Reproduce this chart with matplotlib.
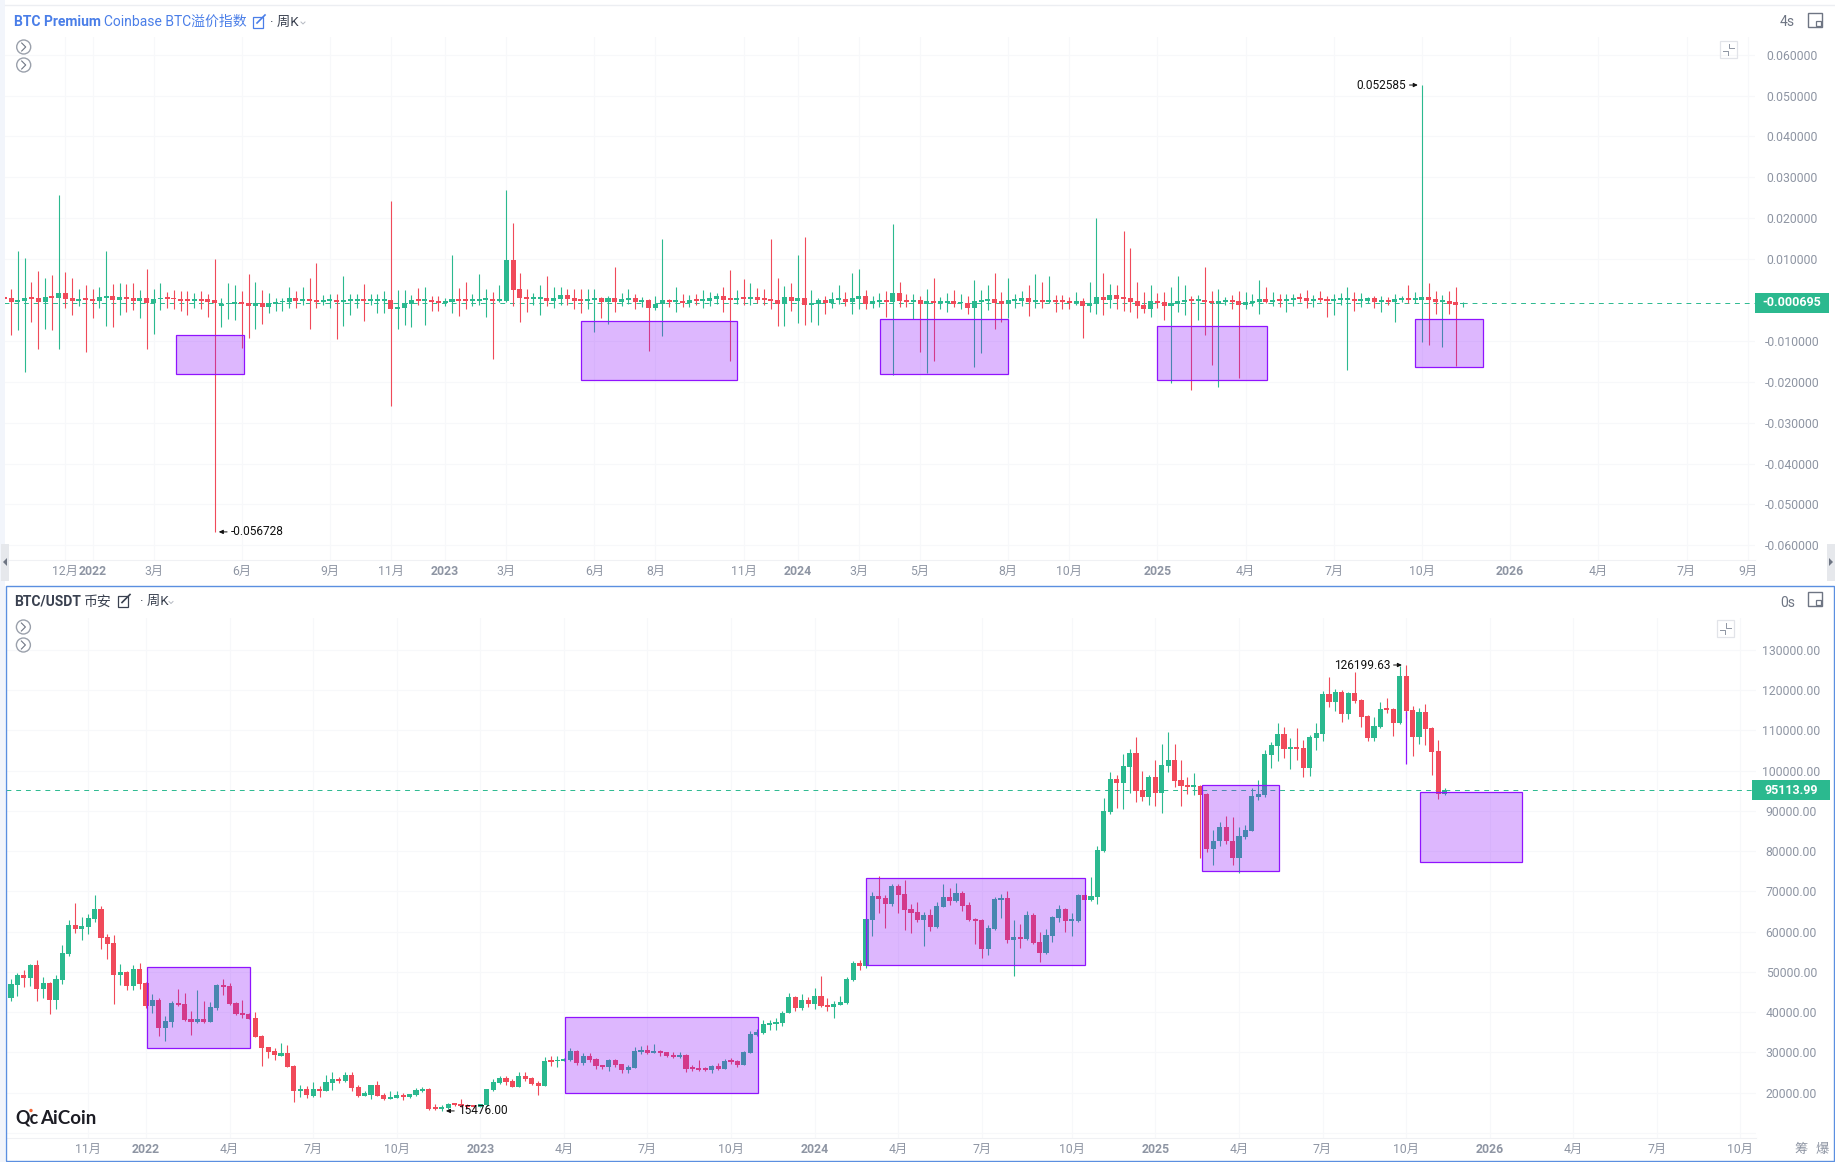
import pandas as pd
import matplotlib
matplotlib.use("Agg")
import matplotlib.pyplot as plt
from matplotlib.patches import Rectangle, Circle, Polygon

plt.rcParams["font.family"] = ["Roboto", "Noto Sans CJK SC", "DejaVu Sans"]

W, H = 1835, 1162
BASE = pd.Timestamp("2022-01-03")

GREEN = "#2BB98F"
RED = "#F04A5A"
PURPLE = "#9013FE"
GRID = "#F7F8FA"
AXIS_TEXT = "#8E95A3"

# ---- premium index, weekly, first candle is 13 weeks before BASE
prem_first_week = -13
prem_open = [
    .0008, .0005, -.0005, -.0003, .0007, .0005, -.0005, .0010, .0005, .0017,
    .0005, -.0003, .0005, .0002, -.0003, .0005, .0010, 0, .0007, .0006,
    -.0002, .0005, -.0007, .0002, .0007, .0005, .0003, .0002, -.0002, .0002,
    .0002, 0, -.0014, -.0011, -.0010, -.0005, -.0008, -.0014, -.0007, -.0016,
    -.0009, -.0006, -.0005, .0005, -.0002, .0002, 0, -.0004, -.0003, 0,
    -.0005, -.0003, -.0003, .0002, -.0003, -.0003, -.0003, 0, -.0022, -.0020,
    -.0009, .0002, -.0003, 0, -.0002, -.0007, -.0005, .0002, .0002, -.0003,
    -.0003, 0, .0002, -.0003, -.0002, .0098, .0027, .0007, .0002, .0002,
    .0005, -.0002, .0002, .0012, .0005, .0002, -.0002, 0, .0004, -.0004,
    .0004, -.0004, .0001, .0004, -.0004, 0, -.0019, -.0011, 0, -.0004,
    -.0003, -.0007, .0002, -.0002, -.0002, .0002, .0010, .0004, 0, .0007,
    .0002, .0007, .0005, .0002, 0, -.0009, .0007, -.0002, .0005, -.0012,
    -.0010, 0, -.0007, 0, .0002, -.0005, .0002, .0010, -.0010, -.0005,
    0, -.0005, .0017, 0, -.0005, 0, -.0010, -.0002, -.0007, -.0007,
    -.0002, -.0008, -.0008, -.0019, -.0004, -.0002, .0002, -.0002, -.0009, -.0002,
    -.0002, .0005, -.0005, 0, -.0005, 0, 0, -.0002, -.0007, -.0002,
    -.0015, -.0010, .0007, 0, .0012, .0007, .0005, -.0002, -.0012, -.0022,
    -.0002, -.0005, -.0015, -.0010, -.0005, .0002, -.0002, 0, -.0002, -.0010,
    -.0005, 0, -.0002, -.0012, -.0007, -.0005, .0002, -.0005, .0002, -.0002,
    0, .0007, .0005, -.0002, .0005, .0002, -.0002, 0, 0, .0002,
    -.0002, -.0002, .0005, -.0005, 0, -.0005, 0, .0005, 0, 0,
    .0007, .0002, -.0005, -.0002, -.0005, -.0011,
]
prem_close = [
    .0003, -.0005, 0, .0005, .0003, -.0005, .0007, .0005, .0017, .0002,
    -.0002, .0002, .0001, -.0002, .0007, .0010, 0, .0007, .0002, -.0002,
    .0005, -.0007, .0002, .0005, .0002, .0002, -.0002, -.0003, .0002, -.0002,
    -.0004, -.0008, -.0010, -.0007, -.0006, -.0010, -.0014, -.0007, -.0016, -.0007,
    -.0005, -.0002, .0005, -.0002, .0002, -.0002, -.0004, 0, .0002, -.0005,
    0, .0002, .0002, -.0003, .0002, .0002, .0002, -.0022, -.0017, -.0007,
    0, -.0003, .0002, -.0004, -.0007, -.0002, .0002, -.0003, -.0003, .0002,
    .0002, .0005, -.0003, .0002, .0098, .0025, .0005, .0002, .0007, .0007,
    -.0002, .0005, .0012, .0002, -.0002, -.0002, .0002, .0005, -.0004, .0004,
    -.0004, .0002, .0004, -.0004, 0, -.0019, -.0009, -.0001, -.0004, 0,
    -.0007, 0, -.0002, .0002, .0004, .0010, 0, 0, .0004, .0002,
    .0007, 0, 0, -.0002, -.0009, .0007, -.0002, .0005, -.0012, -.0007,
    0, -.0007, .0002, .0005, -.0005, .0005, .0010, -.0010, -.0002, 0,
    -.0005, .0017, -.0002, -.0005, 0, -.0010, -.0002, -.0007, -.0002, -.0002,
    -.0010, -.0005, -.0019, -.0003, 0, .0002, -.0007, -.0009, 0, .0002,
    .0005, -.0005, 0, -.0005, 0, -.0005, -.0005, -.0007, -.0002, -.0015,
    -.0007, .0007, 0, .0012, .0002, .0002, -.0005, -.0015, -.0022, -.0002,
    -.0008, -.0015, -.0007, -.0002, 0, -.0002, .0002, -.0005, -.0007, -.0002,
    0, -.0005, -.0012, -.0005, -.0002, .0002, -.0005, 0, -.0002, .0002,
    .0005, .0002, -.0002, .0002, 0, -.0002, .0002, .0005, .0005, -.0002,
    .0002, .0005, -.0005, 0, -.0005, .0002, .0005, 0, .0005, .0007,
    0, -.0005, 0, -.0009, -.0012, -.000695,
]
prem_high = [
    .0009, .0028, .0121, .0103, .0044, .0072, .0055, .0062, .0257, .0068,
    .0053, .0027, .0037, .0027, .0033, .0121, .0040, .0041, .0039, .0041,
    .0025, .0077, .0026, .0042, .0019, .0024, .0023, .0021, .0016, .0021,
    .0015, .0100, .0006, .0041, .0036, .0022, .0064, .0043, .0024, .0016,
    .0005, .0006, .0032, .0022, .0032, .0055, .0090, .0013, .0014, .0014,
    .0059, .0014, .0014, .0039, .0014, .0014, .0022, .0242, .0024, .0025,
    .0012, .0029, .0031, .0010, .0009, .0005, .0110, .0030, .0044, .0014,
    .0063, .0027, .0019, .0037, .0268, .0188, .0065, .0028, .0016, .0037,
    .0059, .0032, .0032, .0026, .0028, .0026, .0027, .0028, .0007, .0010,
    .0081, .0016, .0026, .0014, .0008, .0002, .0010, .0149, .0002, .0033,
    .0014, .0012, .0014, .0024, .0020, .0017, .0032, .0073, .0024, .0051,
    .0042, .0029, .0028, .0148, .0054, .0034, .0042, .0109, .0155, .0024,
    .0006, .0010, .0019, .0036, .0020, .0066, .0075, .0024, .0010, .0016,
    .0021, .0187, .0044, .0015, .0015, .0011, .0026, .0053, .0008, .0016,
    .0025, .0014, .0011, .0050, .0024, .0037, .0066, .0020, .0053, .0015,
    .0022, .0037, .0063, .0043, .0059, .0012, .0012, .0007, .0020, .0004,
    .0043, .0201, .0065, .0039, .0036, .0169, .0127, .0043, .0020, .0037,
    .0016, .0020, .0033, .0059, .0037, .0011, .0012, .0081, .0022, .0027,
    .0007, .0012, .0022, .0020, .0015, .0049, .0033, .0020, .0015, .0014,
    .0015, .0017, .0024, .0012, .0023, .0010, .0014, .0017, .0032, .0020,
    .0018, .0008, .0010, .0009, .0007, .0015, .0010, .0037, .0019, .052585,
    .0042, .0022, .0012, .0022, .0032, -.0004,
]
prem_low = [
    .0003, -.0085, -.0074, -.0176, -.0053, -.0121, -.0071, -.0074, -.0119, -.0020,
    -.0037, -.0014, -.0128, -.0043, -.0020, -.0064, -.0066, -.0037, -.0029, -.0024,
    -.0044, -.0121, -.0082, -.0024, -.0020, -.0022, -.0027, -.0036, -.0019, -.0022,
    -.0042, -.056728, -.0065, -.0047, -.0049, -.0117, -.0092, -.0071, -.0059, -.0033,
    -.0026, -.0026, -.0019, -.0019, -.0013, -.0070, -.0020, -.0013, -.0020, -.0096,
    -.0064, -.0037, -.0020, -.0051, -.0013, -.0032, -.0033, -.0259, -.0070, -.0062,
    -.0066, -.0013, -.0062, -.0026, -.0026, -.0014, -.0032, -.0039, -.0022, -.0014,
    -.0013, -.0041, -.0144, -.0004, -.0004, -.0015, -.0054, -.0029, -.0013, -.0037,
    -.0014, -.0019, -.0013, -.0013, -.0023, -.0031, -.0023, -.0078, -.0044, -.0058,
    -.0029, -.0015, -.0010, -.0022, -.0016, -.0124, -.0024, -.0087, -.0018, -.0030,
    -.0016, -.0018, -.0012, -.0019, -.0014, -.0011, -.0029, -.0148, -.0010, -.0012,
    -.0013, -.0008, -.0012, -.0022, -.0063, -.0063, -.0027, -.0056, -.0062, -.0054,
    -.0060, -.0034, -.0019, -.0011, -.0014, -.0035, -.0022, -.0022, -.0019, -.0016,
    -.0042, -.0183, -.0016, -.0016, -.0047, -.0127, -.0179, -.0150, -.0022, -.0030,
    -.0016, -.0022, -.0034, -.0165, -.0129, -.0025, -.0071, -.0053, -.0045, -.0019,
    -.0015, -.0040, -.0020, -.0019, -.0008, -.0029, -.0023, -.0022, -.0012, -.0092,
    -.0029, -.0034, -.0037, -.0020, -.0023, -.0027, -.0029, -.0045, -.0033, -.0041,
    -.0020, -.0048, -.0202, -.0029, -.0037, -.0219, -.0049, -.0085, -.0158, -.0212,
    -.0012, -.0022, -.0191, -.0022, -.0015, -.0034, -.0008, -.0015, -.0017, -.0029,
    -.0014, -.0006, -.0019, -.0017, -.0006, -.0041, -.0037, -.0012, -.0172, -.0026,
    -.0016, -.0008, -.0020, -.0029, -.0012, -.0054, -.0004, -.0008, -.0008, -.0102,
    -.0110, -.0034, -.0114, -.0034, -.0162, -.0016,
]

# ---- BTC/USDT, weekly, first candle is 22 weeks before BASE
btc_first_week = -22
btc_open = [
    39700, 43586, 46733, 49217, 48555, 51701, 45822, 47230, 43090, 48057,
    54516, 61637, 60643, 61223, 63127, 65611, 58657, 57166, 49300, 49962,
    46567, 50790, 47230, 41600, 43007, 36135, 37626, 42345, 42013, 38204,
    37543, 38204, 37543, 41020, 46733, 46485, 42262, 39695, 39530, 38535,
    34065, 31249, 30256, 29178, 29842, 26613, 20485, 20900, 19160, 20900,
    20485, 22472, 23384, 22970, 24376, 21397, 19266, 19432, 21914, 19432,
    18520, 18769, 19432, 18934, 19432, 20508, 20922, 16452, 16038, 16204,
    17330, 17197, 17000, 16950, 16540, 16866, 20673, 22494, 23736, 22908,
    21418, 24066, 23653, 22411, 21749, 28039, 27791, 27957, 28122, 30356,
    27378, 29115, 28453, 26797, 26302, 28122, 27129, 25640, 26220, 30190,
    30605, 29943, 30274, 30026, 29364, 28867, 29364, 26302, 26137, 26137,
    25640, 26633, 25970, 28205, 27791, 26880, 29943, 34413, 34826, 36800,
    37060, 37390, 39873, 43764, 41035, 43018, 42026, 44013, 41780, 41280,
    41780, 42275, 47985, 52200, 51460, 62880, 68840, 68350, 66860, 71330,
    69340, 65620, 64870, 62880, 64127, 61146, 66110, 68595, 67600, 69590,
    66610, 63130, 62880, 55680, 60650, 67850, 68350, 57920, 58660, 58160,
    64127, 57420, 54690, 58900, 63370, 65620, 62630, 62630, 69090, 67850,
    68670, 80100, 89600, 97810, 96980, 100950, 104350, 95080, 93500, 98390,
    94500, 101120, 102600, 97650, 96400, 96000, 96150, 94170, 80500, 82400,
    85970, 82500, 78280, 83570, 85060, 93500, 94000, 103850, 106170, 109070,
    105420, 105750, 105590, 100700, 108150, 109150, 119000, 117000, 119500, 114100,
    119250, 117500, 113540, 108150, 110800, 115500, 115270, 111800, 123450, 115000,
    108320, 114500, 110560, 104850, 94100,
]
btc_high = [
    44000, 48223, 49631, 50459, 51950, 52943, 48803, 47477, 49217, 56586,
    62879, 67019, 63707, 64287, 69089, 66357, 59401, 59153, 51950, 50293,
    51701, 52115, 47500, 44500, 43421, 39000, 42676, 45822, 44662, 40358,
    45408, 42676, 42428, 47064, 48223, 47147, 42510, 43000, 39700, 40000,
    34313, 31415, 31000, 32409, 31829, 26860, 21893, 21645, 22555, 21727,
    24293, 25200, 23800, 25200, 25200, 21893, 20508, 22000, 22825, 20011,
    20425, 20508, 20011, 19700, 21170, 21500, 21087, 17114, 16866, 17400,
    17500, 18370, 17300, 17000, 17200, 21000, 23300, 24200, 24200, 23300,
    25200, 25200, 24000, 23000, 28900, 29100, 29200, 28700, 31000, 30500,
    29800, 29800, 28500, 27000, 28400, 28400, 27200, 26800, 31400, 31500,
    31800, 32000, 30500, 30100, 30000, 30200, 29500, 26900, 28100, 26400,
    27000, 27400, 28300, 28600, 28000, 30300, 35200, 35900, 38000, 38050,
    38470, 40290, 44700, 44100, 44430, 43800, 45900, 48970, 43500, 42700,
    43900, 48700, 52800, 52900, 63500, 69960, 73800, 69000, 71800, 71800,
    72800, 66800, 67300, 64800, 65500, 67400, 71900, 70800, 72000, 70100,
    67300, 63400, 63100, 61700, 68700, 69400, 70000, 62800, 61800, 65000,
    64700, 60000, 60600, 64000, 66500, 65800, 64500, 69400, 69500, 73500,
    81300, 93300, 99600, 99000, 104000, 105300, 108300, 99800, 99000, 102700,
    106500, 109500, 106500, 102500, 98500, 99500, 96500, 94500, 85300, 87300,
    88700, 88500, 86000, 86500, 95700, 97700, 105000, 107000, 111900, 110700,
    108000, 110500, 107500, 108900, 111800, 119700, 123200, 120200, 119900, 119500,
    124400, 117700, 113900, 113300, 117000, 117900, 115500, 126000, 126199.63, 116000,
    115500, 116500, 110800, 107500, 95700,
]
btc_low = [
    39500, 42841, 44000, 46319, 46485, 42841, 43421, 39612, 40854, 46899,
    53937, 59567, 57911, 59401, 62465, 55593, 53275, 42013, 46733, 45491,
    45574, 45657, 41000, 39700, 34065, 32900, 36300, 41517, 37873, 34313,
    37374, 37211, 37543, 40441, 44248, 41765, 39281, 38535, 38280, 33733,
    26695, 28683, 28020, 29100, 26365, 17587, 18995, 18665, 18995, 18995,
    20485, 20650, 22472, 22555, 20485, 18995, 19183, 18520, 19183, 18107,
    18438, 18603, 18272, 18686, 19266, 20094, 15700, 15790, 15476, 15950,
    16800, 16400, 16300, 16300, 16400, 16700, 20400, 22200, 22000, 21400,
    21400, 23000, 22000, 19430, 21600, 26600, 26500, 27800, 27900, 27000,
    26800, 27600, 25800, 25900, 25500, 26300, 25000, 24800, 26100, 29500,
    29500, 29900, 29100, 28800, 28600, 28700, 25200, 25400, 25400, 25300,
    24900, 25700, 25900, 27100, 26500, 26800, 29800, 34100, 34500, 35600,
    35570, 36650, 39870, 40230, 40560, 41300, 40800, 41200, 40300, 38600,
    41700, 42000, 47800, 50500, 50900, 59000, 64600, 60800, 66400, 64500,
    60500, 59600, 62500, 56500, 60200, 60800, 66000, 66700, 67300, 65100,
    62700, 57000, 53500, 54300, 60400, 63500, 57200, 49000, 55900, 57800,
    57000, 52500, 54400, 57500, 62500, 59800, 58900, 62400, 65300, 67500,
    66900, 79800, 89200, 90800, 90500, 94300, 92300, 92500, 91500, 91300,
    89400, 99700, 96000, 91300, 94100, 93800, 78200, 79800, 76600, 81300,
    81700, 76500, 74500, 83100, 85000, 92700, 93500, 100700, 102300, 103100,
    100400, 102500, 98300, 98700, 105200, 107400, 115800, 114700, 112000, 112700,
    116700, 110800, 107300, 107300, 110600, 114300, 108600, 111500, 113000, 103500,
    106700, 106300, 98900, 93000, 93900,
]
btc_close = [
    43800, 46981, 49217, 48555, 51701, 45822, 47230, 43090, 48223, 54599,
    61637, 60643, 61389, 63376, 65611, 58491, 56999, 49300, 49962, 46567,
    50790, 47064, 41600, 43007, 36135, 37791, 42345, 41765, 38122, 37543,
    38204, 37543, 41268, 46733, 46236, 42013, 39530, 39281, 38370, 33900,
    31166, 30173, 29262, 29759, 26448, 20485, 20900, 19326, 20900, 20485,
    22638, 23384, 22970, 24376, 21065, 19160, 19845, 21914, 19266, 18438,
    18934, 19432, 18934, 19680, 20673, 20922, 16038, 16038, 16452, 17197,
    17040, 16700, 16540, 16540, 17100, 20922, 22659, 23736, 22659, 21500,
    24150, 23404, 22164, 21749, 27791, 27709, 28039, 28370, 30274, 27295,
    29033, 28122, 26633, 26467, 28122, 26797, 25640, 26385, 30356, 30605,
    29860, 30274, 29860, 29115, 28867, 29364, 25970, 25888, 25723, 25723,
    26716, 25970, 27957, 27709, 26797, 30109, 34578, 34992, 37061, 37400,
    37557, 39873, 43764, 41035, 43018, 42026, 44013, 41530, 41280, 42026,
    42520, 48150, 52200, 51460, 63130, 68840, 68100, 66860, 71330, 69090,
    65367, 64620, 62880, 64127, 61146, 66360, 68595, 67600, 69590, 66360,
    62880, 62630, 55680, 60900, 68100, 68350, 57920, 58660, 58160, 64127,
    57170, 54690, 59160, 63630, 65620, 62630, 63130, 69090, 67850, 68840,
    80266, 89948, 97810, 96980, 101120, 104350, 95000, 93500, 98390, 94500,
    101370, 102600, 97480, 96160, 96000, 96400, 94000, 80500, 82400, 85970,
    82400, 78280, 83740, 85230, 93670, 94170, 104100, 106340, 109070, 105420,
    105750, 105420, 100700, 108320, 109300, 119000, 117000, 119500, 114100, 119250,
    117250, 113400, 108150, 111050, 115190, 115100, 111800, 123450, 114800, 108320,
    114500, 110300, 104680, 94100, 95113.99,
]

# ---- axes labels
prem_tick_dates = ["2021-12-06", "2022-01-03", "2022-03-07", "2022-06-06", "2022-09-05", "2022-11-07",
                   "2023-01-02", "2023-03-06", "2023-06-05", "2023-08-07", "2023-11-06", "2024-01-01",
                   "2024-03-04", "2024-05-06", "2024-08-05", "2024-10-07", "2025-01-06", "2025-04-07",
                   "2025-07-07", "2025-10-06", "2026-01-05", "2026-04-06", "2026-07-06", "2026-09-07"]
prem_tick_labels = ["12月", "2022", "3月", "6月", "9月", "11月", "2023", "3月", "6月", "8月", "11月", "2024",
                    "3月", "5月", "8月", "10月", "2025", "4月", "7月", "10月", "2026", "4月", "7月", "9月"]
btc_tick_dates = ["2021-11-01", "2022-01-03", "2022-04-04", "2022-07-04", "2022-10-03", "2023-01-02",
                  "2023-04-03", "2023-07-03", "2023-10-02", "2024-01-01", "2024-04-01", "2024-07-01",
                  "2024-10-07", "2025-01-06", "2025-04-07", "2025-07-07", "2025-10-06", "2026-01-05",
                  "2026-04-06", "2026-07-06", "2026-10-05"]
btc_tick_labels = ["11月", "2022", "4月", "7月", "10月", "2023", "4月", "7月", "10月", "2024", "4月", "7月",
                   "10月", "2025", "4月", "7月", "10月", "2026", "4月", "7月", "10月"]
prem_yticks = [.06, .05, .04, .03, .02, .01, -.01, -.02, -.03, -.04, -.05, -.06]
btc_yticks = [130000, 120000, 110000, 100000, 90000, 80000, 70000, 60000, 50000, 40000, 30000, 20000]

# hand drawn boxes: week from, week to, value from, value to
prem_box_w0 = [12.25, 72.0, 116.1, 157.0, 195.0]
prem_box_w1 = [22.3, 95.0, 135.0, 173.1, 205.0]
prem_box_v0 = [-.00868, -.00521, -.00472, -.00643, -.00465]
prem_box_v1 = [-.0180, -.0195, -.01817, -.01964, -.01629]
btc_box_w0 = [0.09, 65.1, 112.07, 164.2, 198.1]
btc_box_w1 = [16.1, 95.16, 146.1, 176.3, 214.1]
btc_box_v0 = [51133, 38716, 73233, 96327, 94664]
btc_box_v1 = [31017, 19843, 51778, 74971, 77206]


def axes_px(left, top, right, bottom):
    return [left / W, 1 - bottom / H, (right - left) / W, (bottom - top) / H]


def week_of(dates):
    return [(pd.Timestamp(d) - BASE).days / 7 for d in dates]


def candles(ax, first_week, opens, highs, lows, closes, width):
    weeks = [first_week + i for i in range(len(opens))]
    colors = [GREEN if c >= o else RED for o, c in zip(opens, closes)]
    ax.vlines(weeks, lows, highs, colors=colors, linewidth=0.8, zorder=2)
    ax.bar(weeks, [abs(c - o) for o, c in zip(opens, closes)], bottom=[min(o, c) for o, c in zip(opens, closes)],
           width=width, color=colors, linewidth=0, zorder=2)
    return weeks


def boxes(ax, w0, w1, v0, v1):
    for a, b, c, d in zip(w0, w1, v0, v1):
        ax.add_patch(Rectangle((a, c), b - a, d - c, facecolor=PURPLE, alpha=0.3, linewidth=0, zorder=3))
        ax.add_patch(Rectangle((a, c), b - a, d - c, fill=False, edgecolor=PURPLE, linewidth=0.9, zorder=4))


def style_axis(ax, dates, labels, yticks, fmt, ypad):
    ax.set_xticks(week_of(dates))
    ax.set_xticklabels(labels, fontsize=8.8, color=AXIS_TEXT)
    for lab in ax.get_xticklabels():
        if len(lab.get_text()) == 4:
            lab.set_fontweight("bold")
    ax.yaxis.tick_right()
    ax.set_yticks(yticks)
    ax.set_yticklabels([fmt.format(v) for v in yticks], fontsize=8.8, color=AXIS_TEXT, ha="center")
    ax.tick_params(axis="both", length=0)
    ax.tick_params(axis="x", pad=3.6)
    ax.tick_params(axis="y", pad=ypad)
    ax.grid(True, color=GRID, linewidth=0.8)
    ax.set_axisbelow(True)
    for side in ["top", "left", "right"]:
        ax.spines[side].set_visible(False)
    ax.spines["bottom"].set_color("#F0F1F4")


def extreme_note(ax, week, value, s, side):
    # short arrow from the label to the tip of the wick, offsets in points
    ax.annotate("", xy=(week, value), xycoords="data", xytext=(9.0 * side, 0), textcoords="offset points",
                arrowprops=dict(arrowstyle="-|>,head_width=0.12,head_length=0.25", color="#111111", lw=0.7,
                                shrinkA=0, shrinkB=3), zorder=6)
    ax.annotate(s, xy=(week, value), xytext=(11.5 * side, 0), textcoords="offset points", fontsize=8.6,
                color="#111111", va="center", ha="left" if side > 0 else "right", zorder=6)


fig = plt.figure(figsize=(W / 100, H / 100), dpi=100, facecolor="white")

# ---- top panel
ax1 = fig.add_axes(axes_px(4, 37, 1755, 560))
ax1.set_xlim((4 - 92.5) / 6.783, (1755 - 92.5) / 6.783)
ax1.set_ylim((300 - 560) / 4088, (300 - 37) / 4088)
style_axis(ax1, prem_tick_dates, prem_tick_labels, prem_yticks, "{:.6f}", 27)
ax1.axhline(prem_close[-1], color=GREEN, linewidth=0.7, linestyle=(0, (5, 5)), zorder=1)
candles(ax1, prem_first_week, prem_open, prem_high, prem_low, prem_close, 0.74)
boxes(ax1, prem_box_w0, prem_box_w1, prem_box_v0, prem_box_v1)
extreme_note(ax1, 18, min(prem_low), "-0.056728", 1)
extreme_note(ax1, 196, max(prem_high), "0.052585", -1)

# ---- bottom panel
ax2 = fig.add_axes(axes_px(6, 618, 1756, 1138))
ax2.set_xlim((6 - 146) / 6.429, (1756 - 146) / 6.429)
ax2.set_ylim(130000 - (1138 - 649.7) * 248.3, 130000 - (618 - 649.7) * 248.3)
style_axis(ax2, btc_tick_dates, btc_tick_labels, btc_yticks, "{:.2f}", 25.5)
ax2.axhline(10000, color=GRID, linewidth=0.8, zorder=0)
ax2.axhline(btc_close[-1], color=GREEN, linewidth=0.7, linestyle=(0, (5, 5)), zorder=1)
candles(ax2, btc_first_week, btc_open, btc_high, btc_low, btc_close, 0.8)
ax2.vlines(196, 101500, 114800, colors=PURPLE, linewidth=0.9, zorder=3)
boxes(ax2, btc_box_w0, btc_box_w1, btc_box_v0, btc_box_v1)
extreme_note(ax2, 46, min(btc_low), "15476.00", 1)
extreme_note(ax2, 196, max(btc_high), "126199.63", -1)

# ---- page furniture, in pixels
page = fig.add_axes([0, 0, 1, 1], facecolor="none")
page.set_xlim(0, W)
page.set_ylim(H, 0)
page.axis("off")

page.add_patch(Rectangle((0, 0), 5, H, facecolor="#F2F5FB", linewidth=0))
page.plot([5, W], [5, 5], color="#ECEEF2", linewidth=1)
page.add_patch(Rectangle((5.5, 585.5), 1828, 575, fill=False, edgecolor="#5B8FE0", linewidth=1))


def label(x, y, s, **kw):
    kw.setdefault("fontsize", 10)
    kw.setdefault("va", "center")
    page.text(x, y, s, **kw)


def edit_icon(x, y, color):
    page.add_patch(Rectangle((x, y - 5.5), 10, 11, fill=False, edgecolor=color, linewidth=0.9))
    page.plot([x + 4, x + 12], [y + 1, y - 7], color=color, linewidth=1.2)


def chevron(x, y):
    page.plot([x, x + 2, x + 4], [y, y + 2, y], color="#B4B9C2", linewidth=0.7)


BLUE = "#4A7EE8"
DARK = "#3A4150"
label(14, 22, "BTC Premium", color=BLUE, fontweight="bold")
label(103.5, 22, "Coinbase BTC溢价指数", color=BLUE, fontsize=10)
edit_icon(253, 22, BLUE)
label(270, 22, "· 周K", color=DARK, fontsize=9.6)
chevron(301, 22)
label(14, 601.5, "BTC/USDT", color=DARK, fontweight="bold")
label(84, 601.5, "币安", color=DARK)
edit_icon(118, 601.5, DARK)
label(140, 601.5, "· 周K", color=DARK, fontsize=9.6)
chevron(169, 601.5)

for x, y, s in [(1780, 22, "4s"), (1780, 603, "0s")]:
    label(x, y, s, color="#6E7583")
for x, y in [(1808, 13), (1808, 592)]:
    page.add_patch(Rectangle((x, y), 14, 14, fill=False, edgecolor="#6E7583", linewidth=1))
    page.add_patch(Rectangle((x + 8, y + 8), 5, 5, fill=False, edgecolor="#6E7583", linewidth=0.9))

for x, y in [(23.7, 47), (23.7, 65), (23.4, 627), (23.4, 645)]:
    page.add_patch(Circle((x, y), 7, fill=False, edgecolor="#9AA0AB", linewidth=1))
    page.plot([x - 2, x + 2, x - 2], [y - 4, y, y + 4], color="#6E7583", linewidth=0.8)

for x, y in [(1719.5, 40.5), (1716.5, 620)]:
    page.add_patch(Rectangle((x, y), 17.5, 17, fill=False, edgecolor="#E2E4E9", linewidth=0.9))
    page.plot([x + 9.5, x + 9.5, x + 14], [y + 3, y + 7.5, y + 7.5], color="#8E95A3", linewidth=0.7)
    page.plot([x + 3.5, x + 8, x + 8], [y + 10, y + 10, y + 14], color="#8E95A3", linewidth=0.7)

page.add_patch(Rectangle((1755, 293), 74, 20, facecolor=GREEN, linewidth=0))
label(1792, 303, f"{prem_close[-1]:.6f}", color="white", fontsize=9, fontweight="bold", ha="center")
page.add_patch(Rectangle((1752, 780), 78, 20, facecolor=GREEN, linewidth=0))
label(1791, 790, f"{btc_close[-1]:.2f}", color="white", fontsize=9, fontweight="bold", ha="center")

for x0, x1, xt, flip in [(1, 9, 5, 1), (1827, 1835, 1831, -1)]:
    page.add_patch(Rectangle((x0, 544), x1 - x0, 37, facecolor="#E6E8EC", linewidth=0))
    page.add_patch(Polygon([(xt + 2 * flip, 558), (xt + 2 * flip, 566), (xt - 2 * flip, 562)], facecolor="#6E7583"))

label(1801, 1149, "筹", color=AXIS_TEXT, fontsize=9.5, ha="center")
label(1822, 1149, "爆", color=AXIS_TEXT, fontsize=9.5, ha="center")

label(15, 1118, "Qc", color="#1C1C24", fontsize=13, fontweight="bold", family=["Lato", "DejaVu Sans"])
page.add_patch(Circle((31, 1110.5), 1.7, facecolor="#F0683A", linewidth=0))
label(40, 1118, "AiCoin", color="#1C1C24", fontsize=13.5, fontweight="bold", family=["Lato", "DejaVu Sans"])

fig.savefig("out.png", dpi=100)
